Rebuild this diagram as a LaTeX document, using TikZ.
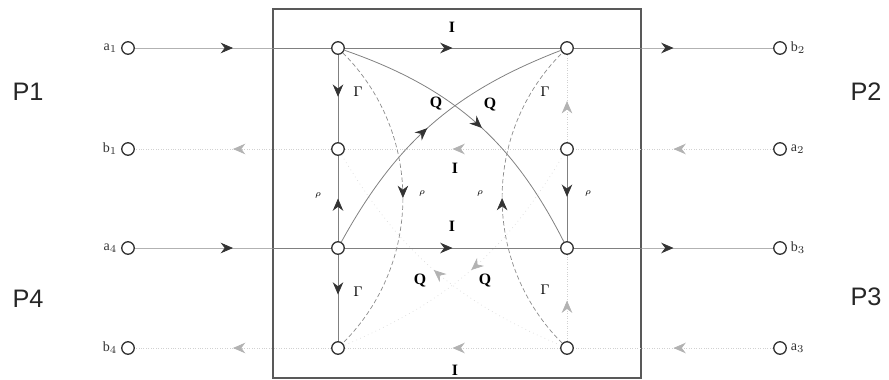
\documentclass[tikz,border=0pt]{standalone}
\usepackage{fontspec}
\setmainfont{Liberation Serif}
\newfontfamily\pfont{Liberation Sans}
\usetikzlibrary{positioning, arrows.meta, decorations.markings}

\begin{document}
\begin{tikzpicture}[
    x=0.02cm, y=-0.02cm,
    port/.style={circle, draw=black!80, line width=0.75pt, fill=white,
                 minimum size=0.25cm, inner sep=0pt},
    box/.style={draw=black!65, line width=1.1pt, minimum width=7.36cm,
                minimum height=7.38cm, inner sep=0pt},
    wire/.style={draw=black!50, line width=0.45pt},
    outer/.style={draw=black!30, line width=0.4pt},
    faint/.style={draw=black!18, line width=0.4pt, densely dotted},
    dcurve/.style={draw=black!45, line width=0.4pt, dash pattern=on 2.5pt off 1.5pt},
    gcurve/.style={draw=black!14, line width=0.4pt, dotted},
    dk/.style={postaction={decorate}, decoration={markings, mark=at position #1 with
               {\arrow{Stealth[length=7pt, width=6pt, color=black!80, fill=black!80]}}}},
    dk/.default=0.5,
    lt/.style={postaction={decorate}, decoration={markings, mark=at position #1 with
               {\arrow{Stealth[length=7pt, width=6pt, color=black!30, fill=black!30]}}}},
    lt/.default=0.5,
    sym/.style={font=\bfseries\small, inner sep=1pt},
    coef/.style={font=\footnotesize, inner sep=1pt},
    rho/.style={font=\tiny, inner sep=1pt},
    plbl/.style={font=\footnotesize, inner sep=1pt, text=black!80},
    pname/.style={font=\pfont\Large, text=black!85},
]
\useasboundingbox (0,0) rectangle (889,379);

% Coupler box
\node[box] (box) at (457,193.5) {};

% Inner nodes
\node[port] (n11) at (338,48) {};
\node[port] (n12) at (567,48) {};
\node[port] (n21) at (338,149) {};
\node[port] (n22) at (567,149) {};
\node[port] (n31) at (338,248) {};
\node[port] (n32) at (567,248) {};
\node[port] (n41) at (338,348) {};
\node[port] (n42) at (567,348) {};

% Ports
\node[port] (a1) at (128,48) {};
\node[port] (b1) at (128,149) {};
\node[port] (a4) at (128,248) {};
\node[port] (b4) at (128,348) {};
\node[port] (b2) at (780,48) {};
\node[port] (a2) at (780,149) {};
\node[port] (b3) at (780,248) {};
\node[port] (a3) at (780,348) {};

\node[plbl, left=1pt of a1] (la1) {a$_1$};
\node[plbl, left=1pt of b1] (lb1) {b$_1$};
\node[plbl, left=1pt of a4] (la4) {a$_4$};
\node[plbl, left=1pt of b4] (lb4) {b$_4$};
\node[plbl, right=1pt of b2] (lb2) {b$_2$};
\node[plbl, right=1pt of a2] (la2) {a$_2$};
\node[plbl, right=1pt of b3] (lb3) {b$_3$};
\node[plbl, right=1pt of a3] (la3) {a$_3$};

\node[pname] (p1) at (28,92) {P1};
\node[pname] (p4) at (28,299) {P4};
\node[pname] (p2) at (866,92) {P2};
\node[pname] (p3) at (866,297) {P3};

% Outer lines
\draw[outer, dk] (a1) -- (n11);
\draw[outer, dk] (n12) -- (b2);
\draw[outer, dk] (a4) -- (n31);
\draw[outer, dk] (n32) -- (b3);
\draw[faint, lt] (n21) -- (b1);
\draw[faint, lt] (a2) -- (n22);
\draw[faint, lt] (n41) -- (b4);
\draw[faint, lt] (a3) -- (n42);

% Through paths I
\draw[wire, dk] (n11) -- (n12);
\draw[wire, dk] (n31) -- (n32);
\draw[faint, lt] (n22) -- (n21);
\draw[faint, lt] (n42) -- (n41);
\draw[wire] (n11) -- (n11 -| box.west);
\draw[wire] (n31) -- (n31 -| box.west);
\draw[wire] (n12) -- (n12 -| box.east);
\draw[wire] (n32) -- (n32 -| box.east);

% Reflections and leakage (columns)
\draw[wire, dk=0.48] (n11) -- (n21);
\draw[wire, dk=0.5] (n31) -- (n21);
\draw[wire, dk=0.46] (n31) -- (n41);
\draw[faint, lt=0.47] (n22) -- (n12);
\draw[wire, dk=0.48] (n22) -- (n32);
\draw[faint, lt=0.47] (n42) -- (n32);

% Coupled paths Q
\draw[wire, dk=0.53] (n11) to[bend left=22] (n32);
\draw[wire, dk=0.48] (n31) to[bend left=20] (n12);
\draw[gcurve, lt=0.5] (n22) to[bend left=18] (n41);
\draw[gcurve, lt=0.5] (n42) to[bend left=18] (n21);

% Isolation paths rho
\draw[dcurve, dk=0.5] (n11) to[bend left=45] (n41);
\draw[dcurve, dk=0.5] (n42) to[bend left=45] (n12);

% Labels
\node[sym] (i1) at (452,27) {I};
\node[sym] (i2) at (455,168) {I};
\node[sym] (i3) at (452,226) {I};
\node[sym] (i4) at (455,370) {I};
\node[sym] (q1) at (436,104) {Q};
\node[sym] (q2) at (490,105) {Q};
\node[sym] (q3) at (420,281) {Q};
\node[sym] (q4) at (485,281) {Q};
\node[coef] (g1) at (358,92) {$\Gamma$};
\node[coef] (g2) at (545,92) {$\Gamma$};
\node[coef] (g3) at (358,292) {$\Gamma$};
\node[coef] (g4) at (545,290) {$\Gamma$};
\node[rho] (r1) at (318,195) {$\rho$};
\node[rho] (r2) at (422,193) {$\rho$};
\node[rho] (r3) at (480,193) {$\rho$};
\node[rho] (r4) at (588,193) {$\rho$};

\end{tikzpicture}
\end{document}
